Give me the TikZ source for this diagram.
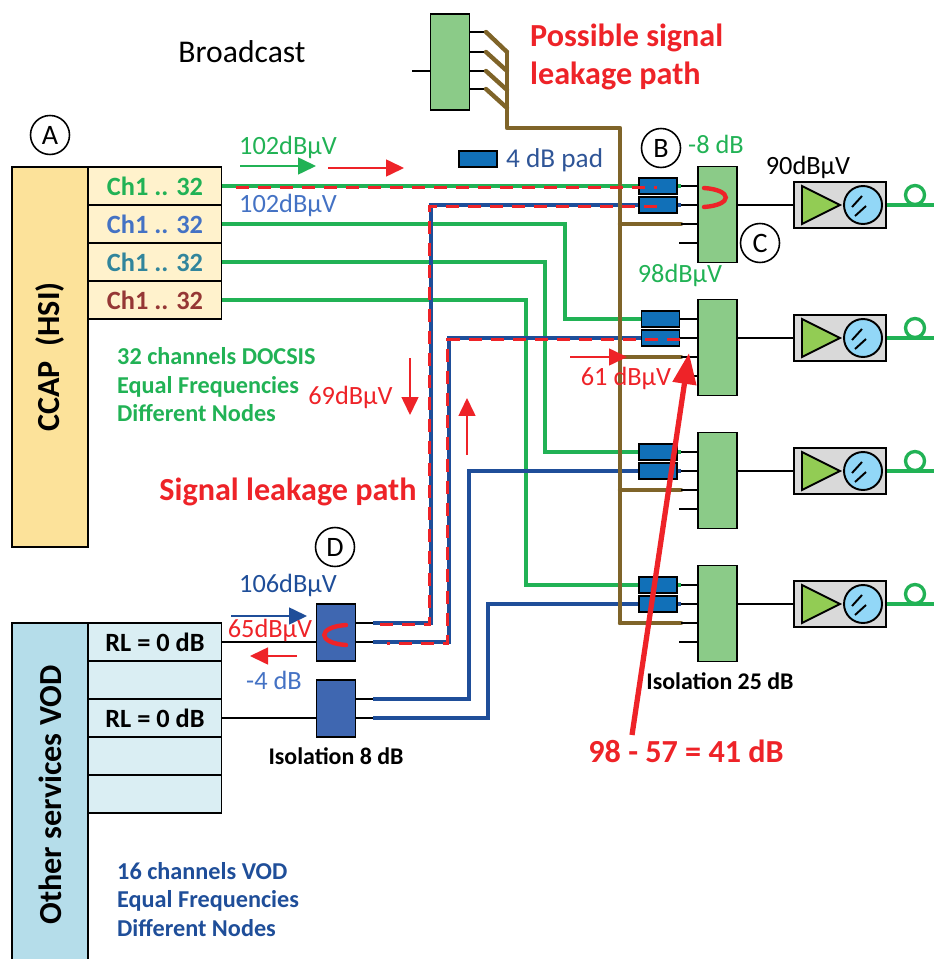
\documentclass[tikz,border=0pt]{standalone}
\usepackage{fontspec}
\setmainfont{Carlito}
\usetikzlibrary{arrows.meta}
\definecolor{wiregreen}{HTML}{21B255}
\definecolor{wireblue}{HTML}{1F4E99}
\definecolor{leakred}{HTML}{EE2328}
\definecolor{trunkbrown}{HTML}{7F6429}
\definecolor{labelblue}{HTML}{4472C4}
\definecolor{navyblue}{HTML}{2F5597}
\definecolor{headyellow}{HTML}{FCE29A}
\definecolor{headcyan}{HTML}{B5DDEA}
\definecolor{rowyellow}{HTML}{FFF2CC}
\definecolor{rowcyan}{HTML}{DAEEF3}
\definecolor{splitgreen}{HTML}{8BCB88}
\definecolor{splitblue}{HTML}{3F67B1}
\definecolor{padblue}{HTML}{1170B8}
\definecolor{triangreen}{HTML}{92CC54}
\definecolor{dishblue}{HTML}{92D7F7}
\definecolor{chteal}{HTML}{31859C}
\definecolor{chbrown}{HTML}{953735}
\definecolor{ampgray}{HTML}{D9D9D9}
\begin{document}
\begin{tikzpicture}[x=.02cm, y=-.02cm, font=\fontsize{15}{18}\selectfont]
	\tikzstyle{block} = [draw, line width=1.1pt, inner sep=0pt]
	\tikzstyle{headA} = [block, fill=headyellow, minimum width=1.52cm, minimum height=7.6cm]
	\tikzstyle{headB} = [block, fill=headcyan, minimum width=1.52cm, minimum height=7.04cm]
	\tikzstyle{rowA} = [block, fill=rowyellow, minimum width=2.66cm, minimum height=.76cm, font=\fontsize{15}{18}\selectfont\bfseries]
	\tikzstyle{rowB} = [block, fill=rowcyan, minimum width=2.66cm, minimum height=.76cm, font=\fontsize{15}{18}\selectfont\bfseries]
	\tikzstyle{split} = [block, fill=splitgreen, minimum width=.78cm, minimum height=1.92cm]
	\tikzstyle{splitb} = [block, fill=splitblue, minimum width=.78cm, minimum height=1.14cm]
	\tikzstyle{pad} = [block, fill=padblue, minimum width=.76cm, minimum height=.32cm]
	\tikzstyle{amp} = [block, fill=ampgray, minimum width=1.84cm, minimum height=.92cm]
	\tikzstyle{dish} = [circle, draw, line width=1.1pt, fill=dishblue, inner sep=0pt, minimum size=.76cm]
	\tikzstyle{ring} = [circle, draw=wiregreen, line width=1.9pt, inner sep=0pt, minimum size=.38cm]
	\tikzstyle{tag} = [circle, draw, line width=.9pt, inner sep=0pt, minimum size=.78cm, font=\fontsize{16}{18}\selectfont]
	\tikzstyle{stub} = [line width=1.1pt]
	\tikzstyle{wgreen} = [wiregreen, line width=1.8pt]
	\tikzstyle{wblue} = [wireblue, line width=1.8pt]
	\tikzstyle{trunk} = [trunkbrown, line width=2.5pt, line cap=round, line join=round]
	\tikzstyle{leak} = [leakred, line width=2.2pt, dash pattern=on .26cm off .18cm]
	\tikzstyle{curl} = [leakred, line width=2.5pt, line cap=round]
	\tikzstyle{flow} = [line width=.9pt, -{Triangle[length=.36cm,width=.34cm]}]
	\tikzstyle{bigtext} = [font=\fontsize{18.3}{22}\selectfont\bfseries]
	\tikzstyle{note} = [anchor=west, text height=.3cm, text depth=.1cm, font=\fontsize{13.8}{15}\selectfont\bfseries]
	\tikzstyle{iso} = [font=\fontsize{13.6}{16}\selectfont\bfseries]
	\clip (0,0) rectangle (934,959);

	% head ends
	\node[headA] (Ccap) at (50,357) {};
	\node[bigtext, rotate=90] (CcapText) at (50,357) {CCAP\ \ (HSI)};
	\node[headB] (Other) at (50,799) {};
	\node[bigtext, rotate=90] (OtherText) at (50,795) {Other services VOD};
	\node[rowA, text=wiregreen] (ChA) at (155,186) {Ch1 .. 32};
	\node[rowA, text=labelblue] (ChB) at (155,224) {Ch1 .. 32};
	\node[rowA, text=chteal] (ChC) at (155,262) {Ch1 .. 32};
	\node[rowA, text=chbrown] (ChD) at (155,300) {Ch1 .. 32};
	\node[rowB] (RlA) at (155,642) {RL = 0 dB};
	\node[rowB] (RlB) at (155,680) {};
	\node[rowB] (RlC) at (155,718) {RL = 0 dB};
	\node[rowB] (RlD) at (155,756) {};
	\node[rowB] (RlE) at (155,794) {};

	% splitters, pads and receivers
	\node[split] (SplitTop) at (450,62) {};
	\node[splitb] (SplitD) at (336,632.5) {};
	\node[splitb] (SplitE) at (336,708.5) {};
	\node[split] (SplitOne) at (717.5,214.5) {};
	\node[split] (SplitTwo) at (717.5,347.5) {};
	\node[split] (SplitThree) at (717.5,480.5) {};
	\node[split] (SplitFour) at (717.5,613.5) {};
	\coordinate (StubOne) at (679,243);
	\coordinate (StubTwo) at (679,376);
	\coordinate (StubThree) at (679,509);
	\coordinate (StubFour) at (679,642);
	\coordinate (TapOne) at (681,224);
	\coordinate (TapTwo) at (681,357);
	\coordinate (TapThree) at (681,490);
	\coordinate (TapFour) at (681,623);
	\coordinate (PortOneA) at (681,186);
	\coordinate (PortOneB) at (681,205);
	\coordinate (PortTwoA) at (680,319);
	\coordinate (PortTwoB) at (680,338);
	\coordinate (PortThreeA) at (681,452);
	\coordinate (PortThreeB) at (681,471);
	\coordinate (PortFourA) at (681,585);
	\coordinate (PortFourB) at (681,604);

	% wires from the CCAP
	\coordinate (BendB) at (565,224);
	\coordinate (BendC) at (545,262);
	\coordinate (BendD) at (526,300);
	\draw[wgreen] (ChA.east) -- (PortOneA);
	\draw[wgreen] (ChB.east) -- (BendB) |- (PortTwoA);
	\draw[wgreen] (ChC.east) -- (BendC) |- (PortThreeA);
	\draw[wgreen] (ChD.east) -- (BendD) |- (PortFourA);

	% wires from the other services
	\coordinate (OutDA) at (355,623);
	\coordinate (OutDB) at (355,642);
	\coordinate (OutEA) at (355,699);
	\coordinate (OutEB) at (355,718);
	\coordinate (BlueDA) at (373,623);
	\coordinate (BlueDB) at (373,642);
	\coordinate (BlueEA) at (373,699);
	\coordinate (BlueEB) at (373,718);
	\coordinate (RiseDA) at (431,623);
	\coordinate (RiseDB) at (449,642);
	\coordinate (RiseEA) at (469,699);
	\coordinate (RiseEB) at (488,718);
	\draw[wblue] (BlueDA) -- (RiseDA) |- (PortOneB);
	\draw[wblue] (BlueDB) -- (RiseDB) |- (PortTwoB);
	\draw[wblue] (BlueEA) -- (RiseEA) |- (PortThreeB);
	\draw[wblue] (BlueEB) -- (RiseEB) |- (PortFourB);
	\draw[stub] (OutDA) -- (BlueDA);
	\draw[stub] (OutDB) -- (BlueDB);
	\draw[stub] (OutEA) -- (BlueEA);
	\draw[stub] (OutEB) -- (BlueEB);
	\draw[stub] (RlA.east) -- (SplitD.west |- RlA.east);
	\draw[stub] (RlC.east) -- (SplitE.west |- RlC.east);

	% broadcast trunk
	\coordinate (FeedTop) at (412,71);
	\coordinate (TopA) at (486,32);
	\coordinate (TopB) at (486,52);
	\coordinate (TopC) at (486,71);
	\coordinate (TopD) at (486,89);
	\coordinate (JoinA) at (507,52);
	\coordinate (JoinB) at (507,71);
	\coordinate (JoinC) at (507,90);
	\coordinate (JoinD) at (507,108);
	\coordinate (CornerA) at (507,128);
	\coordinate (CornerB) at (620,128);
	\coordinate (TrunkOne) at (620,224);
	\coordinate (TrunkTwo) at (620,357);
	\coordinate (TrunkThree) at (620,490);
	\coordinate (TrunkFour) at (620,623);
	\draw[stub] (FeedTop) -- (FeedTop -| SplitTop.west);
	\draw[stub] (TopA -| SplitTop.east) -- (TopA);
	\draw[stub] (TopB -| SplitTop.east) -- (TopB);
	\draw[stub] (TopC -| SplitTop.east) -- (TopC);
	\draw[stub] (TopD -| SplitTop.east) -- (TopD);
	\draw[trunk] (TopA) -- (JoinA);
	\draw[trunk] (TopB) -- (JoinB);
	\draw[trunk] (TopC) -- (JoinC);
	\draw[trunk] (TopD) -- (JoinD);
	\draw[trunk] (JoinA) -- (CornerA) -- (CornerB) -- (TrunkFour);
	\draw[trunk] (TrunkOne) -- (TapOne);
	\draw[trunk] (TrunkTwo) -- (TapTwo);
	\draw[trunk] (TrunkThree) -- (TapThree);
	\draw[trunk] (TrunkFour) -- (TapFour);

	% stubs into the splitters
	\draw[stub] (PortOneA) -- (PortOneA -| SplitOne.west);
	\draw[stub] (PortOneB) -- (PortOneB -| SplitOne.west);
	\draw[stub] (TapOne) -- (TapOne -| SplitOne.west);
	\draw[stub] (StubOne) -- (StubOne -| SplitOne.west);
	\draw[stub] (PortTwoA) -- (PortTwoA -| SplitTwo.west);
	\draw[stub] (PortTwoB) -- (PortTwoB -| SplitTwo.west);
	\draw[stub] (TapTwo) -- (TapTwo -| SplitTwo.west);
	\draw[stub] (StubTwo) -- (StubTwo -| SplitTwo.west);
	\draw[stub] (PortThreeA) -- (PortThreeA -| SplitThree.west);
	\draw[stub] (PortThreeB) -- (PortThreeB -| SplitThree.west);
	\draw[stub] (TapThree) -- (TapThree -| SplitThree.west);
	\draw[stub] (StubThree) -- (StubThree -| SplitThree.west);
	\draw[stub] (PortFourA) -- (PortFourA -| SplitFour.west);
	\draw[stub] (PortFourB) -- (PortFourB -| SplitFour.west);
	\draw[stub] (TapFour) -- (TapFour -| SplitFour.west);
	\draw[stub] (StubFour) -- (StubFour -| SplitFour.west);

	\node[pad] (PadLegend) at (478,159) {};
	\node[pad] (PadOneA) at (658,186) {};
	\node[pad] (PadOneB) at (658,205) {};
	\node[pad] (PadTwoA) at (660.5,319) {};
	\node[pad] (PadTwoB) at (660.5,338) {};
	\node[pad] (PadThreeA) at (658,452) {};
	\node[pad] (PadThreeB) at (658,471) {};
	\node[pad] (PadFourA) at (658,585) {};
	\node[pad] (PadFourB) at (658,604) {};

	% receivers
	\node[amp] (AmpOne) at (840,205) {};
	\node[amp] (AmpTwo) at (840,338) {};
	\node[amp] (AmpThree) at (840,471) {};
	\node[amp] (AmpFour) at (840,604) {};
	\draw[stub] (SplitOne.east |- AmpOne.west) -- (AmpOne.west);
	\draw[stub] (SplitTwo.east |- AmpTwo.west) -- (AmpTwo.west);
	\draw[stub] (SplitThree.east |- AmpThree.west) -- (AmpThree.west);
	\draw[stub] (SplitFour.east |- AmpFour.west) -- (AmpFour.west);
	\draw[stub, fill=triangreen] (802,186) -- (840,205) -- (802,224) -- cycle;
	\draw[stub, fill=triangreen] (802,319) -- (840,338) -- (802,357) -- cycle;
	\draw[stub, fill=triangreen] (802,452) -- (840,471) -- (802,490) -- cycle;
	\draw[stub, fill=triangreen] (802,585) -- (840,604) -- (802,623) -- cycle;
	\node[dish] (DishOne) at (863,205) {};
	\node[dish] (DishTwo) at (863,338) {};
	\node[dish] (DishThree) at (863,471) {};
	\node[dish] (DishFour) at (863,604) {};
	\draw[stub] (852,207) -- (862,196) (855,216) -- (866,206);
	\draw[stub] (852,340) -- (862,329) (855,349) -- (866,339);
	\draw[stub] (852,473) -- (862,462) (855,482) -- (866,472);
	\draw[stub] (852,606) -- (862,595) (855,615) -- (866,605);
	\coordinate (OutOne) at (934,205);
	\coordinate (OutTwo) at (934,338);
	\coordinate (OutThree) at (934,471);
	\coordinate (OutFour) at (934,604);
	\draw[wgreen] (AmpOne.east) -- (OutOne);
	\draw[wgreen] (AmpTwo.east) -- (OutTwo);
	\draw[wgreen] (AmpThree.east) -- (OutThree);
	\draw[wgreen] (AmpFour.east) -- (OutFour);
	\node[ring] (RingOne) at (915,195) {};
	\node[ring] (RingTwo) at (915,328) {};
	\node[ring] (RingThree) at (915,461) {};
	\node[ring] (RingFour) at (915,594) {};

	% leakage paths
	\coordinate (LeakStart) at (236,187.5);
	\coordinate (LeakStop) at (657,187.5);
	\coordinate (LeakOne) at (657,206.5);
	\coordinate (LeakTwo) at (680,339.5);
	\coordinate (LeakCornerA) at (429.5,206.5);
	\coordinate (LeakCornerB) at (447.5,339.5);
	\coordinate (LeakFootA) at (429.5,624.5);
	\coordinate (LeakFootB) at (447.5,643.5);
	\coordinate (LeakEndA) at (373,624.5);
	\coordinate (LeakEndB) at (387,643.5);
	\draw[leak] (LeakStart) -- (LeakStop);
	\draw[leak] (LeakOne) -- (LeakCornerA) -- (LeakFootA) -- (LeakEndA);
	\draw[leak] (LeakTwo) -- (LeakCornerB) -- (LeakFootB) -- (LeakEndB);
	\draw[curl] (704,188) .. controls (733,190) and (733,205) .. (704,207);
	\draw[curl] (346,625) .. controls (317,627) and (317,643) .. (346,645);

	% signal arrows
	\coordinate (GreenS) at (240,166);
	\coordinate (GreenE) at (316,166);
	\coordinate (RedS) at (328,168);
	\coordinate (RedE) at (404,168);
	\coordinate (BlueS) at (231,616);
	\coordinate (BlueE) at (307,616);
	\coordinate (BackS) at (297,656);
	\coordinate (BackE) at (250,656);
	\coordinate (DownS) at (410,358);
	\coordinate (DownE) at (410,415);
	\coordinate (UpS) at (467,455);
	\coordinate (UpE) at (467,398);
	\coordinate (SideS) at (570,357);
	\coordinate (SideE) at (627,357);
	\coordinate (BigS) at (632,735);
	\coordinate (BigE) at (689,353);
	\draw[flow, wiregreen] (GreenS) -- (GreenE);
	\draw[flow, leakred] (RedS) -- (RedE);
	\draw[flow, wireblue] (BlueS) -- (BlueE);
	\draw[flow, leakred] (BackS) -- (BackE);
	\draw[flow, leakred] (DownS) -- (DownE);
	\draw[flow, leakred] (UpS) -- (UpE);
	\draw[flow, leakred] (SideS) -- (SideE);
	\draw[leakred, line width=3pt, -{Triangle[length=.62cm,width=.46cm]}] (BigS) -- (BigE);

	% labels
	\node[font=\fontsize{18}{22}\selectfont] (Broadcast) at (242,52) {Broadcast};
	\node[bigtext, text=leakred, anchor=west] (PossibleA) at (524,38) {Possible signal};
	\node[bigtext, text=leakred, anchor=west] (PossibleB) at (524,76) {leakage path};
	\node[tag] (TagA) at (50,135) {A};
	\node[tag] (TagB) at (661,148) {B};
	\node[tag] (TagC) at (760,243) {C};
	\node[tag] (TagD) at (335,547) {D};
	\node[text=wiregreen] (LevelA) at (288,147) {102dBµV};
	\node[text=labelblue] (LevelB) at (288,205) {102dBµV};
	\node[text=navyblue, anchor=west, font=\fontsize{15.5}{18}\selectfont] (PadText) at (500,160) {4 dB pad};
	\node[text=wiregreen] (LossOne) at (716,144) {-8 dB};
	\node (LevelOut) at (808,167) {90dBµV};
	\node[text=wiregreen] (LevelSplit) at (680,275) {98dBµV};
	\node[text=leakred] (LevelLeak) at (350.5,397) {69dBµV};
	\node[text=leakred] (LevelBack) at (626,378) {61 dBµV};
	\node[bigtext, text=leakred] (LeakText) at (288,492) {Signal leakage path};
	\node[text=wireblue] (LevelVod) at (288,585) {106dBµV};
	\node[text=leakred] (LevelRet) at (270,630) {65dBµV};
	\node[text=labelblue] (LossD) at (274,680) {-4 dB};
	\node[note, text=wiregreen] (NoteA) at (111,359.5) {32 channels DOCSIS};
	\node[note, text=wiregreen] (NoteB) at (111,388) {Equal Frequencies};
	\node[note, text=wiregreen] (NoteC) at (111,416.5) {Different Nodes};
	\node[note, text=wireblue] (NoteD) at (111,874) {16 channels VOD};
	\node[note, text=wireblue] (NoteE) at (111,902) {Equal Frequencies};
	\node[note, text=wireblue] (NoteF) at (111,931) {Different Nodes};
	\node[iso] (IsoD) at (336,756) {Isolation 8 dB};
	\node[iso] (IsoOne) at (720,681) {Isolation 25 dB};
	\node[bigtext, text=leakred] (Result) at (686,751) {98 - 57 = 41 dB};
\end{tikzpicture}
\end{document}
